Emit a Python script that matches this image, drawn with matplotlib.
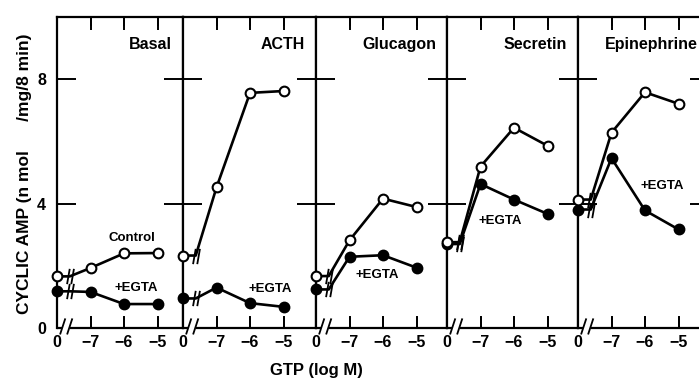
import matplotlib
matplotlib.use("Agg")
import matplotlib.pyplot as plt
from matplotlib.path import Path

plt.rcParams["font.family"] = ["Liberation Sans", "DejaVu Sans"]
plt.rcParams["font.weight"] = "bold"

# GTP concentration (log M), 0 = no GTP
conc_labels = ["0", "\u22127", "\u22126", "\u22125"]
x_pos = [0, 1, 2, 3]
panel_names = ["Basal", "ACTH", "Glucagon", "Secretin", "Epinephrine"]

# cyclic AMP, nmol/mg/8 min
basal_control = [1.66, 1.93, 2.40, 2.41]
basal_egta = [1.18, 1.16, 0.77, 0.77]
acth_control = [2.33, 4.52, 7.56, 7.62]
acth_egta = [0.95, 1.30, 0.80, 0.68]
glucagon_control = [1.67, 2.82, 4.16, 3.89]
glucagon_egta = [1.24, 2.29, 2.34, 1.94]
secretin_control = [2.76, 5.19, 6.44, 5.86]
secretin_egta = [2.70, 4.63, 4.13, 3.67]
epinephrine_control = [4.13, 6.28, 7.58, 7.21]
epinephrine_egta = [3.81, 5.46, 3.78, 3.17]

controls = [basal_control, acth_control, glucagon_control, secretin_control, epinephrine_control]
egtas = [basal_egta, acth_egta, glucagon_egta, secretin_egta, epinephrine_egta]

# where the "+EGTA" label sits in each panel (x in GTP steps, y in data)
egta_label_pos = [(2.36, 1.30), (2.60, 1.25), (1.82, 1.72), (1.60, 3.45), (2.51, 4.58)]

W, H = 699, 383
UNIT = 33.5  # px per log step
lefts = [57, 183, 316, 447, 578]
widths = [126, 133, 131, 131, 131]
bottom_px, top_px = 328, 17
ax_h = bottom_px - top_px

brk = Path([(-0.45, -1), (-0.1, 1), (0.1, -1), (0.45, 1)],
           [Path.MOVETO, Path.LINETO, Path.MOVETO, Path.LINETO])

fig = plt.figure(figsize=(W / 100, H / 100), dpi=100)

for i, name in enumerate(panel_names):
    ax = fig.add_axes([lefts[i] / W, (H - bottom_px) / H, widths[i] / W, ax_h / H])
    xr = widths[i] / UNIT
    ax.set_xlim(0, xr)
    ax.set_ylim(0, 10)

    for sp in ax.spines.values():
        sp.set_linewidth(1.6)
    ax.spines["bottom"].set_visible(False)

    # bottom axis with break marks
    ax.plot([0, 0.15], [0, 0], color="black", lw=1.6, clip_on=False, solid_capstyle="butt")
    ax.plot([0.40, xr], [0, 0], color="black", lw=1.6, clip_on=False, solid_capstyle="butt")
    for xb in (0.17, 0.38):
        ax.plot([xb - 0.07, xb + 0.07], [-0.18, 0.28], color="black", lw=1.3, clip_on=False)

    # ticked positions as major, the "0" labels as tickless minor ticks
    ax.set_xticks(x_pos[1:], labels=conc_labels[1:])
    ax.set_xticks(x_pos[:1], labels=conc_labels[:1], minor=True)
    ax.set_yticks([4, 8], labels=["4", "8"])
    ax.set_yticks([0], labels=["0"], minor=True)
    ax.xaxis.set_ticks_position("both")
    ax.tick_params(axis="x", which="major", length=9, width=1.4, direction="in",
                   color="black", pad=5, labelsize=11.5)
    ax.tick_params(axis="x", which="minor", length=0, pad=5, labelsize=11.5)
    ax.tick_params(axis="y", which="major", length=14, width=1.4, direction="in",
                   left=True, right=True, pad=8, labelsize=11.5,
                   labelleft=(i == 0))
    ax.tick_params(axis="y", which="minor", length=0, pad=8, labelsize=11.5,
                   labelleft=(i == 0))

    # inward x tick marks at top and bottom, drawn on the x-axis transform
    xt = ax.get_xaxis_transform()
    for x in x_pos[1:]:
        ax.plot([x, x], [0, 11 / ax_h], transform=xt, color="black", lw=1.4,
                clip_on=False, solid_capstyle="butt")
        ax.plot([x, x], [1 - 9 / ax_h, 1], transform=xt, color="black", lw=1.4,
                clip_on=False, solid_capstyle="butt")

    c = controls[i]
    e = egtas[i]
    b = 0.38
    for vals, face in ((e, "black"), (c, "white")):
        xs = [x_pos[0], b] + x_pos[1:]
        ys = [vals[0], vals[0]] + vals[1:]
        ax.plot(xs, ys, color="black", lw=1.9, clip_on=False, zorder=3)
        ax.plot([b], [vals[0]], marker=brk, markersize=11, markeredgewidth=1.3,
                color="black", linestyle="none", clip_on=False, zorder=4)
        ax.plot(x_pos, vals, linestyle="none", marker="o", markersize=7,
                markerfacecolor=face, markeredgecolor="black", markeredgewidth=1.5,
                clip_on=False, zorder=5)
    ax.set_xlim(0, xr)
    ax.set_ylim(0, 10)

    lx, ly = egta_label_pos[i]
    ax.text(lx, ly, "+EGTA", ha="center", va="center", fontsize=9.5, fontweight="bold")
    if i == 0:
        ax.text(2.24, 2.9, "Control", ha="center", va="center", fontsize=9.5,
                fontweight="bold")

    ax.text(1 - 11 / widths[i], 0.91, name, transform=ax.transAxes, ha="right",
            va="center", fontsize=11.5, fontweight="bold")

fig.text(25 / W, 1 - 174 / H, "CYCLIC AMP (n mol      /mg/8 min)", rotation=90,
         ha="center", va="center", fontsize=12.5, fontweight="bold")
fig.text(316 / W, 1 - 370 / H, "GTP (log M)", ha="center", va="center",
         fontsize=12, fontweight="bold")

fig.savefig("out.png", dpi=100)
